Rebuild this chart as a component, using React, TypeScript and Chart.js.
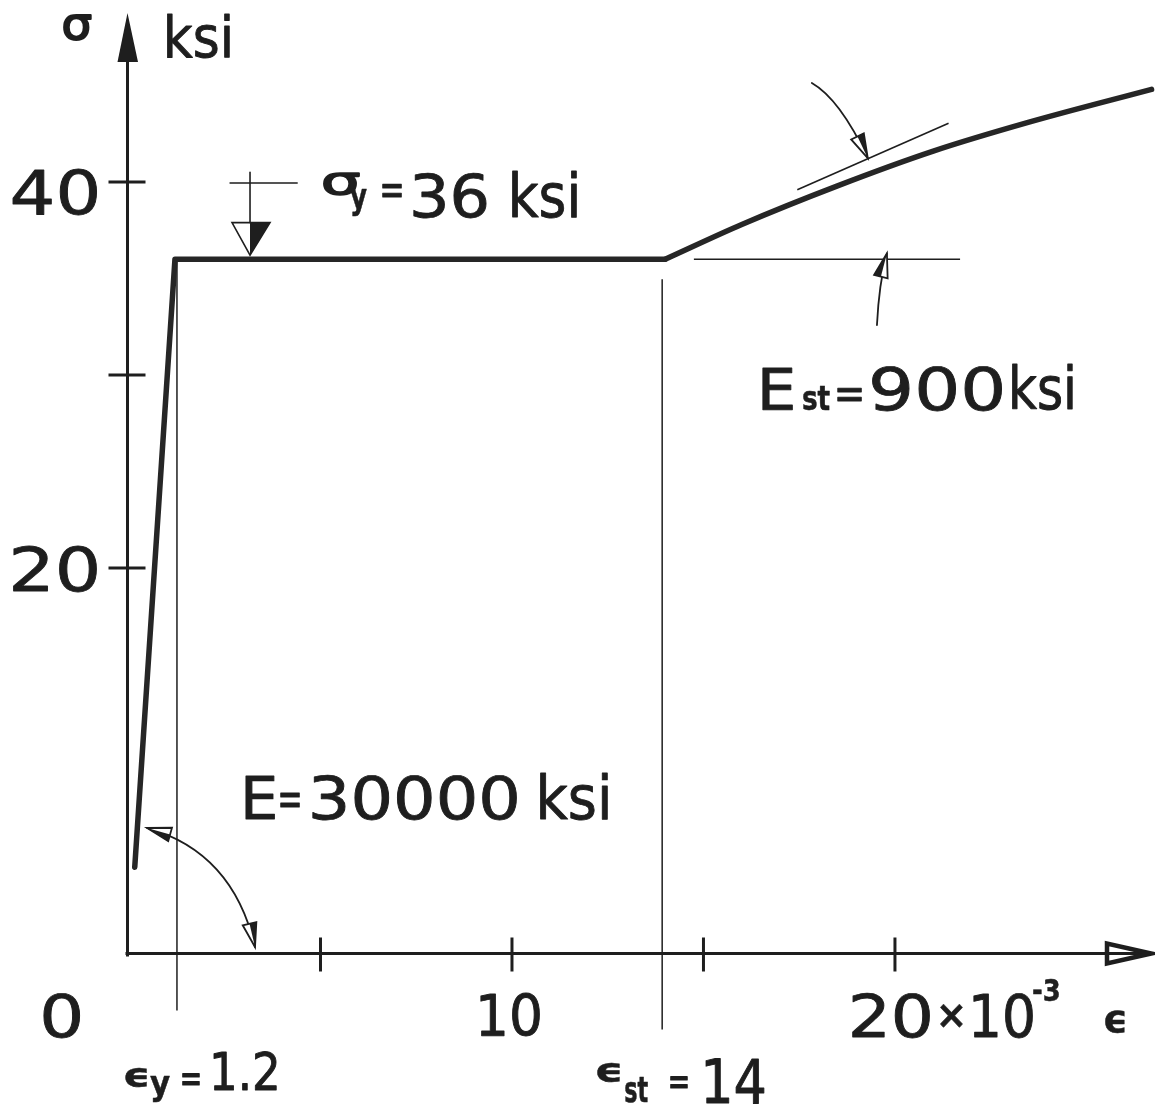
import { useEffect, useRef } from "react";
import { Chart, registerables } from "chart.js";

Chart.register(...registerables);

// Idealized stress–strain diagram of structural steel.
// Strain in units of 10^-3, stress in ksi.
const yieldStress = 36;
const yieldStrain = 1.2;
const hardeningStrain = 14;
const elasticModulus = 30000;
const hardeningModulus = 900;

// Elastic branch and yield plateau
const elasticPlasticStrain = [0.15, 1.2, 14];
const elasticPlasticStress = [4.5, 36, 36];

// Strain-hardening branch
const hardeningStrainPts = [14, 16, 18.5, 21, 23.5, 26.7];
const hardeningStressPts = [36, 37.8, 39.8, 41.6, 43.1, 44.8];

// Tangent drawn along the hardening branch
const tangentStrain = [17.45, 21.4];
const tangentStress = [39.6, 43.05];

// Horizontal reference line at the onset of hardening
const hardeningRefStrain = [14.75, 21.7];
const hardeningRefStress = [36, 36];

// Axis ticks and labels
const stressTicks = [20, 30, 40];
const stressLabels = ["20", "40"];
const strainTicks = [5, 10, 15, 20];
const strainLabels = ["0", "10", "20"];

const INK = "#1e1e1e";
const CURVE = "#262626";
const FONT = '"DejaVu Sans", sans-serif';

const pts = (xs: number[], ys: number[]) => xs.map((x, i) => ({ x, y: ys[i] }));

// Draw text so that its ink fills the given box; an outline of `thick` px
// gives the lettering a pen-like weight.
function fitText(
  ctx: CanvasRenderingContext2D,
  text: string,
  left: number,
  top: number,
  right: number,
  bottom: number,
  weight = "normal",
  thick = 0.9
) {
  ctx.save();
  ctx.font = `${weight} 100px ${FONT}`;
  ctx.textAlign = "left";
  ctx.textBaseline = "alphabetic";
  const m = ctx.measureText(text);
  const w = m.actualBoundingBoxLeft + m.actualBoundingBoxRight;
  const h = m.actualBoundingBoxAscent + m.actualBoundingBoxDescent;
  const sx = (right - left - thick) / w;
  const sy = (bottom - top - thick) / h;
  ctx.translate(left + thick / 2, top + thick / 2);
  ctx.scale(sx, sy);
  ctx.fillStyle = INK;
  ctx.fillText(text, m.actualBoundingBoxLeft, m.actualBoundingBoxAscent);
  if (thick > 0) {
    ctx.strokeStyle = INK;
    ctx.lineJoin = "round";
    ctx.lineWidth = thick / ((sx + sy) / 2);
    ctx.strokeText(text, m.actualBoundingBoxLeft, m.actualBoundingBoxAscent);
  }
  ctx.restore();
}

function seg(ctx: CanvasRenderingContext2D, x1: number, y1: number, x2: number, y2: number) {
  ctx.beginPath();
  ctx.moveTo(x1, y1);
  ctx.lineTo(x2, y2);
  ctx.stroke();
}

// Slender half-filled arrowhead, tip at (tx, ty), coming from (fx, fy)
function arrowHead(
  ctx: CanvasRenderingContext2D,
  tx: number,
  ty: number,
  fx: number,
  fy: number,
  len = 24,
  half = 7
) {
  const a = Math.atan2(ty - fy, tx - fx);
  const bx = tx - len * Math.cos(a);
  const by = ty - len * Math.sin(a);
  const nx = -Math.sin(a) * half;
  const ny = Math.cos(a) * half;
  ctx.beginPath();
  ctx.moveTo(tx, ty);
  ctx.lineTo(bx + nx, by + ny);
  ctx.lineTo(bx - nx, by - ny);
  ctx.closePath();
  ctx.fillStyle = "#fff";
  ctx.fill();
  ctx.stroke();
  ctx.beginPath();
  ctx.moveTo(tx, ty);
  ctx.lineTo(bx - nx, by - ny);
  ctx.lineTo(bx, by);
  ctx.closePath();
  ctx.fillStyle = INK;
  ctx.fill();
}

function curvedArrow(
  ctx: CanvasRenderingContext2D,
  p0: number[],
  c: number[],
  p2: number[],
  headAtStart: boolean
) {
  ctx.beginPath();
  ctx.moveTo(p0[0], p0[1]);
  ctx.quadraticCurveTo(c[0], c[1], p2[0], p2[1]);
  ctx.stroke();
  arrowHead(ctx, p2[0], p2[1], c[0], c[1]);
  if (headAtStart) arrowHead(ctx, p0[0], p0[1], c[0], c[1]);
}

const diagramPlugin = {
  id: "stressStrainDiagram",
  beforeDraw(chart: any) {
    const { ctx, width, height } = chart;
    ctx.save();
    ctx.fillStyle = "#fff";
    ctx.fillRect(0, 0, width, height);
    ctx.restore();
  },
  beforeDatasetsDraw(chart: any) {
    const ctx: CanvasRenderingContext2D = chart.ctx;
    const xs = chart.scales.x;
    const ys = chart.scales.y;
    const area = chart.chartArea;
    const X = (v: number) => xs.getPixelForValue(v);
    const Y = (v: number) => ys.getPixelForValue(v);
    const x0 = X(0) - 1.5;
    const y0 = Y(0) - 0.5;

    ctx.save();
    ctx.strokeStyle = INK;
    ctx.fillStyle = INK;

    // thin construction lines at the yield and hardening strains
    ctx.lineWidth = 1.5;
    seg(ctx, X(yieldStrain) + 2, Y(yieldStress), X(yieldStrain) + 2, y0 + 57);
    seg(ctx, X(hardeningStrain) - 3, Y(yieldStress) + 20, X(hardeningStrain) - 3, y0 + 76);

    // stress axis with filled arrow
    ctx.lineWidth = 3;
    seg(ctx, x0, y0 + 3, x0, area.top + 45);
    ctx.beginPath();
    ctx.moveTo(x0, area.top);
    ctx.lineTo(x0 - 10, area.top + 49);
    ctx.lineTo(x0 + 10.5, area.top + 49);
    ctx.closePath();
    ctx.fill();

    // strain axis with open arrow
    const tipX = area.right - 2;
    seg(ctx, x0 - 2, y0, tipX - 6, y0);
    ctx.lineWidth = 4.5;
    ctx.lineJoin = "miter";
    ctx.beginPath();
    ctx.moveTo(tipX - 2, y0);
    ctx.lineTo(tipX - 46, y0 - 10);
    ctx.lineTo(tipX - 46, y0 + 10);
    ctx.closePath();
    ctx.stroke();

    // tick marks crossing the axes
    ctx.lineWidth = 3;
    stressTicks.forEach((v) => seg(ctx, x0 - 19, Y(v), x0 + 18, Y(v)));
    strainTicks.forEach((v) => seg(ctx, X(v), y0 - 16, X(v), y0 + 18));
    ctx.restore();
  },
  afterDatasetsDraw(chart: any) {
    const ctx: CanvasRenderingContext2D = chart.ctx;
    const xs = chart.scales.x;
    const ys = chart.scales.y;
    const X = (v: number) => xs.getPixelForValue(v);
    const Y = (v: number) => ys.getPixelForValue(v);
    const P = (e: number, s: number) => [X(e), Y(s)];
    const x0 = X(0);
    const y0 = Y(0);

    ctx.save();
    ctx.strokeStyle = INK;
    ctx.fillStyle = INK;
    ctx.lineCap = "round";

    // yield-stress marker: short level line at 40 and a downward arrow to the plateau
    ctx.lineWidth = 1.6;
    seg(ctx, X(2.64), Y(40) + 1, X(4.39), Y(40) + 1);
    const ax = X(3.16);
    seg(ctx, ax, Y(40.5), ax, Y(37.9));
    const triTop = Y(37.9);
    const triTip = Y(yieldStress) - 4;
    ctx.beginPath();
    ctx.moveTo(ax - 18, triTop);
    ctx.lineTo(ax + 20, triTop);
    ctx.lineTo(ax, triTip);
    ctx.closePath();
    ctx.stroke();
    ctx.beginPath();
    ctx.moveTo(ax, triTop);
    ctx.lineTo(ax + 20, triTop);
    ctx.lineTo(ax, triTip);
    ctx.closePath();
    ctx.fill();

    // curved arrows
    ctx.lineWidth = 1.8;
    curvedArrow(ctx, P(17.83, 45.13), P(18.56, 44.3), P(19.29, 41.24), false);
    curvedArrow(ctx, P(19.53, 32.59), P(19.58, 34.7), P(19.79, 36.3), false);
    curvedArrow(ctx, P(0.47, 6.53), P(2.71, 5.28), P(3.29, 0.36), true);

    // axis titles
    fitText(ctx, "σ", 63, 13, 92, 40, "normal", 2);
    fitText(ctx, "ksi", 167, 13, 230, 58);

    // stress tick labels
    const y40 = Y(40);
    const y20 = Y(20);
    fitText(ctx, stressLabels[1], 12, y40 - 14, 97, y40 + 33);
    fitText(ctx, stressLabels[0], 13, y20 - 23, 97, y20 + 24);

    // strain tick labels
    fitText(ctx, strainLabels[0], x0 - 86, y0 + 39, x0 - 49, y0 + 84);
    fitText(ctx, strainLabels[1], X(10) - 32, y0 + 39, X(10) + 28, y0 + 83);
    const x20 = X(20);
    fitText(ctx, strainLabels[2], x20 - 43, y0 + 39, x20 + 35, y0 + 84);
    fitText(ctx, "×", x20 + 45, y0 + 50, x20 + 68, y0 + 73, "bold", 0.5);
    fitText(ctx, "10", x20 + 78, y0 + 39, x20 + 138, y0 + 84);
    fitText(ctx, "-3", x20 + 138, y0 + 24, x20 + 164, y0 + 48, "bold", 0.5);
    fitText(ctx, "ϵ", x20 + 210, y0 + 57, x20 + 230, y0 + 79, "bold", 0.5);

    // yield stress
    fitText(ctx, "σ", 323, 172, 360, 195, "normal", 2.2);
    fitText(ctx, "y", 350, 189, 367, 217, "bold", 0.5);
    fitText(ctx, "=", 382, 184, 402, 198);
    fitText(ctx, String(yieldStress), 413, 172, 487, 218);
    fitText(ctx, "ksi", 512, 171, 577, 218);

    // elastic modulus
    fitText(ctx, "E", 245, 775, 275, 819);
    fitText(ctx, "=", 280, 792, 300, 807);
    fitText(ctx, String(elasticModulus), 312, 775, 517, 820);
    fitText(ctx, "ksi", 540, 773, 608, 820);

    // hardening modulus
    fitText(ctx, "E", 762, 367, 793, 410);
    fitText(ctx, "st", 803, 387, 830, 411, "bold", 0.5);
    fitText(ctx, "=", 837, 388, 862, 402);
    fitText(ctx, String(hardeningModulus), 872, 366, 1002, 411);
    fitText(ctx, "ksi", 1012, 364, 1073, 410);

    // yield strain
    fitText(ctx, "ϵ", 125, 1068, 147, 1088, "bold", 0.5);
    fitText(ctx, "y", 150, 1077, 170, 1103, "bold", 0.5);
    fitText(ctx, "=", 182, 1072, 200, 1085);
    fitText(ctx, String(yieldStrain), 213, 1050, 277, 1090);

    // strain at onset of hardening
    fitText(ctx, "ϵ", 597, 1063, 620, 1083, "bold", 0.5);
    fitText(ctx, "st", 625, 1077, 648, 1103, "bold", 0.5);
    fitText(ctx, "=", 670, 1075, 688, 1088);
    fitText(ctx, String(hardeningStrain), 705, 1058, 765, 1103);

    ctx.restore();
  },
};

export default function App() {
  const canvasRef = useRef<HTMLCanvasElement>(null);

  useEffect(() => {
    const canvas = canvasRef.current;
    if (!canvas) return;
    const chart = new Chart(canvas, {
      type: "line",
      data: {
        datasets: [
          {
            data: pts(elasticPlasticStrain, elasticPlasticStress),
            borderColor: CURVE,
            borderWidth: 5.5,
            tension: 0,
            borderJoinStyle: "round",
            borderCapStyle: "round",
            pointRadius: 0,
          },
          {
            data: pts(hardeningStrainPts, hardeningStressPts),
            borderColor: CURVE,
            borderWidth: 5.5,
            cubicInterpolationMode: "monotone",
            borderCapStyle: "round",
            pointRadius: 0,
          },
          {
            data: pts(tangentStrain, tangentStress),
            borderColor: INK,
            borderWidth: 1.6,
            pointRadius: 0,
          },
          {
            data: pts(hardeningRefStrain, hardeningRefStress),
            borderColor: INK,
            borderWidth: 1.6,
            pointRadius: 0,
          },
        ],
      } as any,
      options: {
        responsive: false,
        animation: false,
        events: [],
        layout: { padding: { left: 129, right: 0, top: 13, bottom: 156 } },
        scales: {
          x: { type: "linear", min: 0, max: 26.79, display: false },
          y: { type: "linear", min: 0, max: 48.76, display: false },
        },
        plugins: {
          legend: { display: false },
          tooltip: { enabled: false },
        },
      },
      plugins: [diagramPlugin],
    });
    return () => chart.destroy();
  }, []);

  return (
    <div style={{ position: "absolute", left: 0, top: 0, width: 1155, height: 1110, background: "#fff" }}>
      <canvas ref={canvasRef} width={1155} height={1110} style={{ display: "block", width: 1155, height: 1110 }} />
    </div>
  );
}
